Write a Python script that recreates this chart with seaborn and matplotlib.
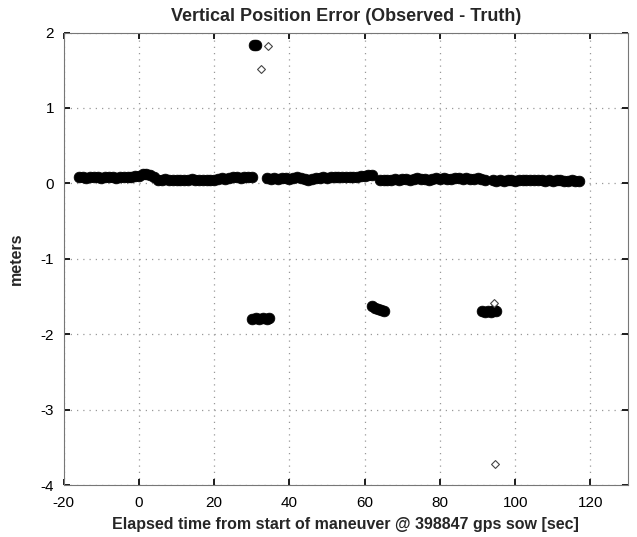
import numpy as np
import pandas as pd
import matplotlib
matplotlib.use("Agg")
import matplotlib.pyplot as plt
import seaborn as sns

# main error band, one reading per second
seg1_x = list(range(-16, 31))
seg1_y = [0.08, 0.08, 0.07, 0.08, 0.09, 0.08, 0.07, 0.08, 0.09, 0.08, 0.07, 0.08,
          0.09, 0.08, 0.09, 0.10, 0.10, 0.12, 0.12, 0.11, 0.09, 0.05, 0.05, 0.06,
          0.05, 0.04, 0.05, 0.05, 0.04, 0.05, 0.06, 0.05, 0.04, 0.05, 0.05, 0.04,
          0.05, 0.06, 0.07, 0.06, 0.07, 0.08, 0.08, 0.07, 0.08, 0.08, 0.08]
seg2_x = list(range(34, 63))
seg2_y = [0.07, 0.06, 0.07, 0.06, 0.07, 0.07, 0.06, 0.07, 0.08, 0.07, 0.06, 0.05,
          0.06, 0.07, 0.07, 0.08, 0.07, 0.08, 0.09, 0.08, 0.09, 0.09, 0.08, 0.09,
          0.09, 0.10, 0.10, 0.11, 0.11]
seg3_x = list(range(64, 93))
seg3_y = [0.05, 0.05, 0.04, 0.05, 0.06, 0.05, 0.06, 0.06, 0.05, 0.06, 0.07, 0.06,
          0.06, 0.05, 0.06, 0.07, 0.06, 0.07, 0.06, 0.06, 0.07, 0.07, 0.06, 0.07,
          0.06, 0.06, 0.07, 0.06, 0.05]
seg4_x = list(range(94, 118))
seg4_y = [0.04, 0.03, 0.04, 0.03, 0.04, 0.04, 0.03, 0.04, 0.04, 0.05, 0.04, 0.05,
          0.04, 0.04, 0.03, 0.04, 0.03, 0.04, 0.04, 0.03, 0.03, 0.04, 0.03, 0.03]

# filled outlier clusters
out_x = [30.5, 31.0, 30.0, 31.0, 32.0, 33.0, 34.0, 34.6,
         62.0, 62.8, 63.6, 64.4, 65.0, 91.2, 92.0, 92.8, 93.6, 94.4, 95.0]
out_y = [1.84, 1.83, -1.80, -1.79, -1.80, -1.79, -1.80, -1.79,
         -1.63, -1.65, -1.66, -1.68, -1.69, -1.69, -1.70, -1.69, -1.70, -1.68, -1.69]

# open diamonds
dia_x = [34.4, 32.5, 94.4, 94.7]
dia_y = [1.82, 1.52, -1.59, -3.72]

band = pd.DataFrame({
    "t": seg1_x + seg2_x + seg3_x + seg4_x + out_x,
    "err": seg1_y + seg2_y + seg3_y + seg4_y + out_y,
})
dia = pd.DataFrame({"t": dia_x, "err": dia_y})

sns.set_theme(style="white")
plt.rcParams["font.family"] = ["Liberation Sans", "DejaVu Sans"]
plt.rcParams["axes.unicode_minus"] = False

fig = plt.figure(figsize=(6.37, 5.37), dpi=100)
ax = fig.add_axes([0.1, 0.0968, 0.886, 0.8425])

sns.scatterplot(data=band, x="t", y="err", ax=ax, color="black", s=60,
                edgecolor="black", linewidth=0.5, zorder=3)
sns.scatterplot(data=dia, x="t", y="err", ax=ax, marker="D", s=16,
                facecolor="white", edgecolor="#444444", linewidth=0.8, zorder=4)

ax.set_xlim(-20, 130)
ax.set_ylim(-4, 2)
ax.set_xticks(range(-20, 121, 20))
ax.set_yticks(range(-4, 3))
ax.grid(True, color="#999999", linestyle=(0, (1, 4)), linewidth=0.9)
ax.tick_params(direction="in", length=4, labelsize=11, colors="black",
               top=True, right=True, bottom=True, left=True)
ax.tick_params(axis="x", pad=8)
ax.tick_params(axis="y", pad=7)
for sp in ax.spines.values():
    sp.set_color("#777777")
    sp.set_linewidth(0.8)

ax.set_title("Vertical Position Error (Observed - Truth)", fontsize=13,
             fontweight="bold", pad=8)
ax.set_xlabel("Elapsed time from start of maneuver @ 398847 gps sow [sec]",
              fontsize=11.5, fontweight="bold", labelpad=5)
ax.set_ylabel("meters", fontsize=11.5, fontweight="bold", labelpad=12)

fig.savefig("out.png", dpi=100)
